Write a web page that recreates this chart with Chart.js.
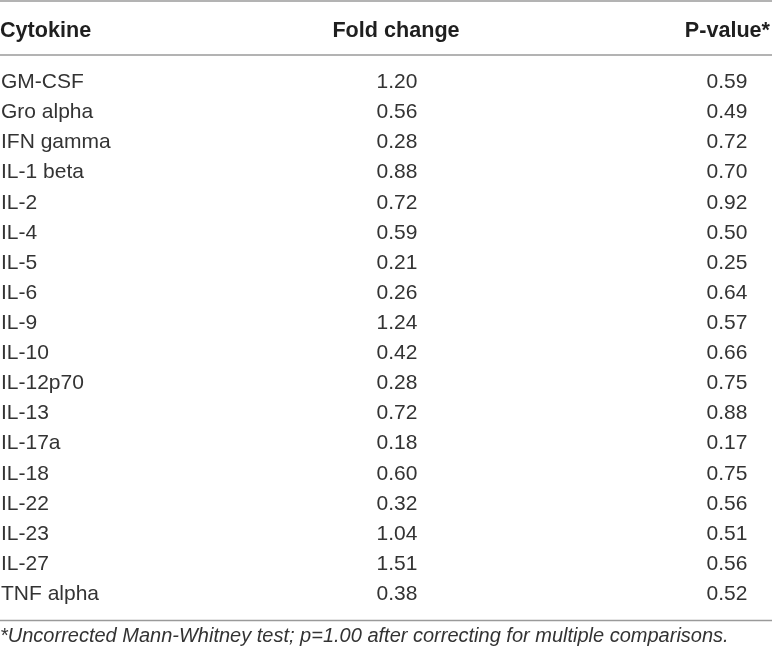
<!DOCTYPE html>
<html>
<head>
<meta charset="utf-8">
<script src="https://cdn.jsdelivr.net/npm/chart.js@4/dist/chart.umd.min.js"></script>
<style>
html,body{margin:0;padding:0;background:#fff;}
#wrap{position:relative;width:772px;height:654px;}
</style>
</head>
<body>
<div id="wrap"><canvas id="c"></canvas></div>
<script>
const headers = ["Cytokine", "Fold change", "P-value*"];
const cytokines = ["GM-CSF","Gro alpha","IFN gamma","IL-1 beta","IL-2","IL-4","IL-5","IL-6","IL-9","IL-10","IL-12p70","IL-13","IL-17a","IL-18","IL-22","IL-23","IL-27","TNF alpha"];
const foldChange = [1.20,0.56,0.28,0.88,0.72,0.59,0.21,0.26,1.24,0.42,0.28,0.72,0.18,0.60,0.32,1.04,1.51,0.38];
const pValues = [0.59,0.49,0.72,0.70,0.92,0.50,0.25,0.64,0.57,0.66,0.75,0.88,0.17,0.75,0.56,0.51,0.56,0.52];
const footnote = "*Uncorrected Mann-Whitney test; p=1.00 after correcting for multiple comparisons.";

const FONT = "'Liberation Sans', Arial, Helvetica, sans-serif";
const TEXT = "#333333";
const RULE = "#9a9a9a";
const COL = { name: 0, fold: 397, pval: 727, pvalHeadRight: 770 };

const tablePlugin = {
  id: 'tablePlugin',
  afterDraw(chart) {
    const ctx = chart.ctx;
    const area = chart.chartArea;
    const W = chart.width;
    const metaF = chart.getDatasetMeta(0);
    const metaP = chart.getDatasetMeta(1);
    ctx.save();
    // rules
    ctx.strokeStyle = RULE;
    ctx.lineWidth = 1.5;
    const rule = y => { ctx.beginPath(); ctx.moveTo(0, y); ctx.lineTo(W, y); ctx.stroke(); };
    rule(1);
    rule(area.top - 10.5);
    rule(area.bottom + 13);
    // header
    ctx.fillStyle = "#1f1f1f";
    ctx.font = "bold 21.6px " + FONT;
    ctx.textBaseline = "alphabetic";
    const hy = 37;
    ctx.textAlign = "left"; ctx.fillText(headers[0], COL.name, hy);
    ctx.textAlign = "center"; ctx.fillText(headers[1], COL.fold - 1, hy);
    ctx.textAlign = "right"; ctx.fillText(headers[2], COL.pvalHeadRight, hy);
    // rows
    ctx.fillStyle = TEXT;
    ctx.font = "21px " + FONT;
    cytokines.forEach((name, i) => {
      const y = metaF.data[i].y + 7.5;
      ctx.textAlign = "left"; ctx.fillText(name, COL.name + 1, y);
      ctx.textAlign = "center"; ctx.fillText(foldChange[i].toFixed(2), COL.fold, y);
      ctx.textAlign = "center"; ctx.fillText(pValues[i].toFixed(2), COL.pval, metaP.data[i].y + 7.5);
    });
    // footnote
    ctx.font = "italic 20px " + FONT;
    ctx.textAlign = "left";
    ctx.fillText(footnote, 0, 642);
    ctx.restore();
  }
};

new Chart(document.getElementById('c'), {
  type: 'bar',
  data: {
    labels: cytokines,
    datasets: [
      { label: headers[1], data: foldChange, backgroundColor: 'rgba(0,0,0,0)', borderWidth: 0, grouped: false },
      { label: headers[2], data: pValues, backgroundColor: 'rgba(0,0,0,0)', borderWidth: 0, grouped: false }
    ]
  },
  options: {
    indexAxis: 'y',
    responsive: true,
    maintainAspectRatio: false,
    animation: false,
    devicePixelRatio: 1,
    layout: { padding: { top: 65.5, bottom: 46.5, left: 0, right: 0 } },
    plugins: { legend: { display: false }, tooltip: { enabled: false } },
    scales: {
      x: { type: 'linear', display: false, min: 0, max: 2 },
      y: { type: 'category', display: false, offset: true }
    }
  },
  plugins: [tablePlugin]
});
</script>
</body>
</html>
